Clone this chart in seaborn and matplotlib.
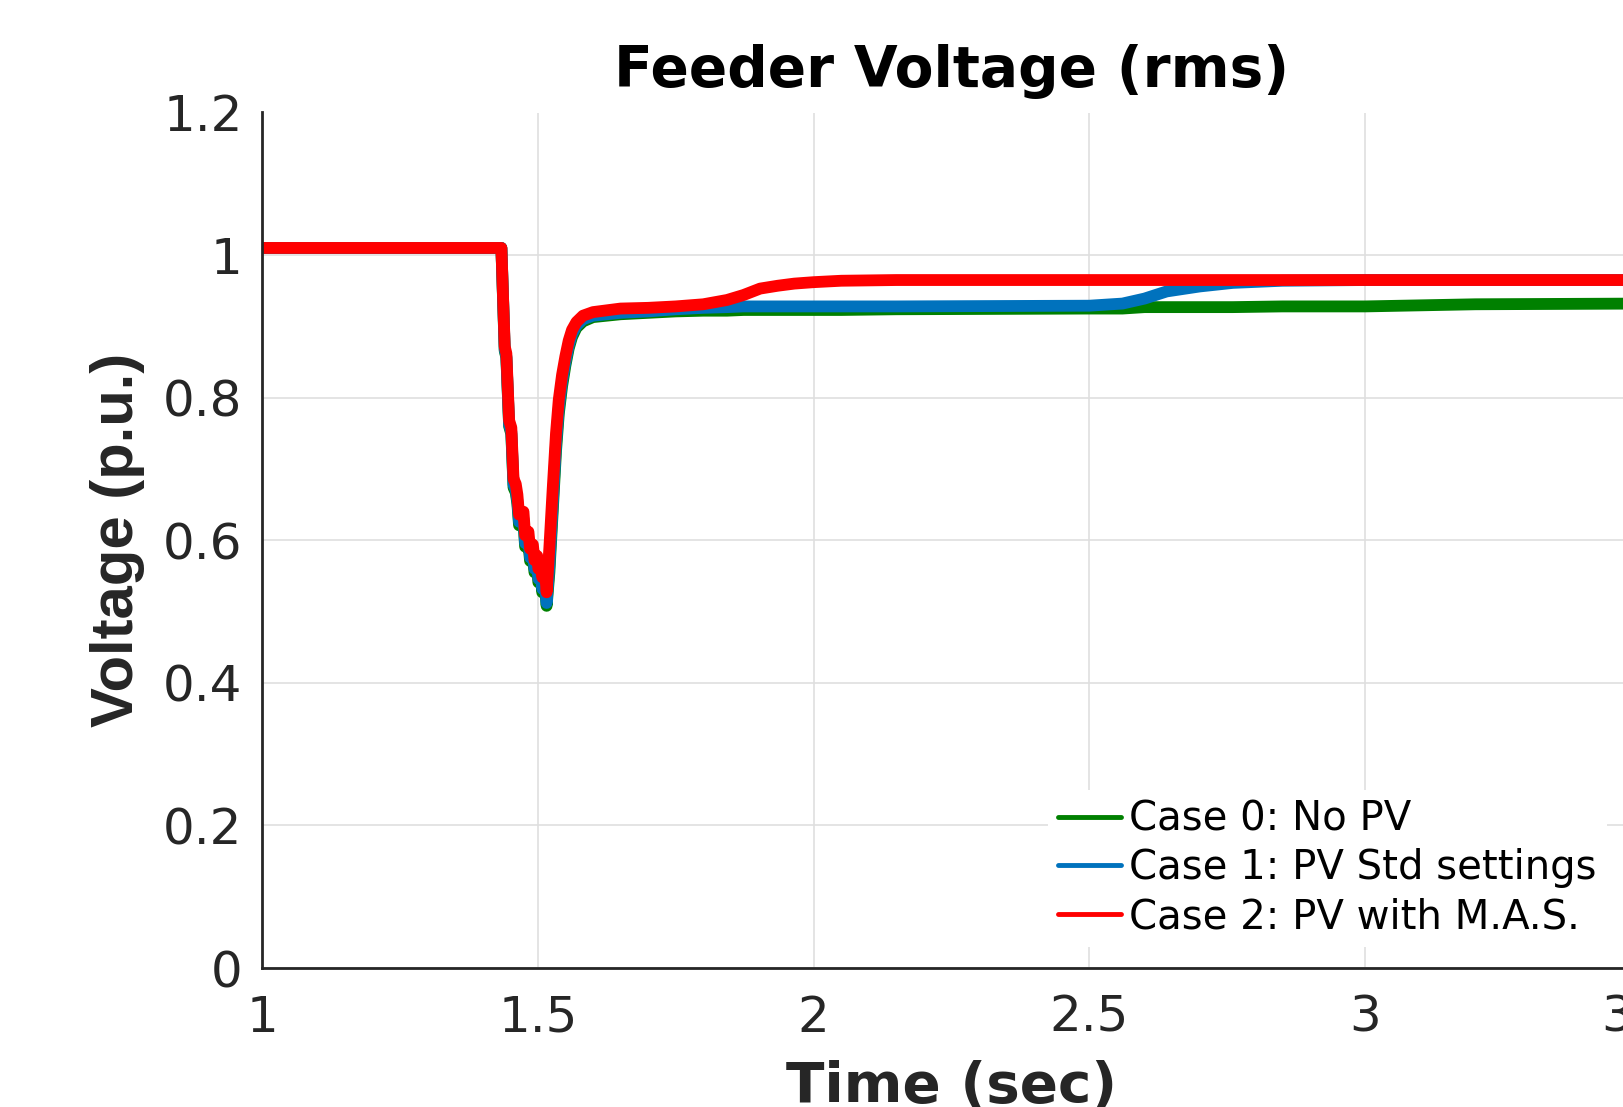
import numpy as np
import pandas as pd
import matplotlib
matplotlib.use("Agg")
import matplotlib.pyplot as plt
import seaborn as sns

# time grid (s) shared by the three cases
time_s = [1.000, 1.434, 1.440, 1.443, 1.448, 1.452, 1.456, 1.460, 1.463, 1.466,
          1.474, 1.477, 1.483, 1.486, 1.491, 1.494, 1.499, 1.501, 1.506, 1.508,
          1.512, 1.516, 1.521, 1.527, 1.533, 1.538, 1.544, 1.550, 1.556, 1.562,
          1.570, 1.582, 1.600, 1.650, 1.700, 1.750, 1.800, 1.843, 1.873, 1.903,
          1.935, 1.965, 2.000, 2.050, 2.150, 2.500, 2.560, 2.600, 2.640, 2.700,
          2.760, 2.850, 3.000, 3.200, 3.500]

# Case 0: No PV
v_case0 = [1.010, 1.010, 0.866, 0.856, 0.760, 0.749, 0.674, 0.667, 0.651, 0.621,
           0.626, 0.591, 0.596, 0.571, 0.577, 0.555, 0.561, 0.541, 0.547, 0.527,
           0.543, 0.508, 0.555, 0.640, 0.725, 0.777, 0.816, 0.845, 0.869, 0.885,
           0.898, 0.907, 0.913, 0.917, 0.919, 0.921, 0.922, 0.922, 0.923, 0.923,
           0.923, 0.923, 0.923, 0.923, 0.924, 0.925, 0.925, 0.927, 0.927, 0.927,
           0.927, 0.928, 0.928, 0.931, 0.932]

# Case 1: PV Std settings
v_case1 = [1.010, 1.010, 0.868, 0.858, 0.762, 0.752, 0.678, 0.671, 0.655, 0.626,
           0.630, 0.596, 0.601, 0.576, 0.582, 0.560, 0.566, 0.546, 0.552, 0.532,
           0.548, 0.512, 0.565, 0.650, 0.735, 0.785, 0.823, 0.850, 0.873, 0.889,
           0.901, 0.910, 0.915, 0.919, 0.921, 0.924, 0.926, 0.927, 0.928, 0.928,
           0.928, 0.928, 0.928, 0.928, 0.928, 0.929, 0.932, 0.939, 0.949, 0.956,
           0.961, 0.964, 0.965, 0.965, 0.965]

# Case 2: PV with M.A.S.
v_case2 = [1.010, 1.010, 0.872, 0.862, 0.768, 0.758, 0.686, 0.679, 0.664, 0.636,
           0.640, 0.607, 0.612, 0.588, 0.594, 0.572, 0.578, 0.560, 0.566, 0.548,
           0.568, 0.527, 0.590, 0.672, 0.750, 0.797, 0.832, 0.858, 0.880, 0.895,
           0.906, 0.915, 0.920, 0.925, 0.926, 0.928, 0.931, 0.937, 0.944, 0.953,
           0.957, 0.960, 0.962, 0.964, 0.965, 0.965, 0.965, 0.965, 0.965, 0.965,
           0.965, 0.965, 0.965, 0.965, 0.965]

labels = ["Case 0: No PV", "Case 1: PV Std settings", "Case 2: PV with M.A.S."]
colors = ["#008000", "#0072BD", "#FF0000"]

x_ticks = [1, 1.5, 2, 2.5, 3, 3.5]
x_tick_labels = ["1", "1.5", "2", "2.5", "3", "3.5"]
y_ticks = [0, 0.2, 0.4, 0.6, 0.8, 1, 1.2]
y_tick_labels = ["0", "0.2", "0.4", "0.6", "0.8", "1", "1.2"]

df = pd.concat([
    pd.DataFrame({"t": time_s, "v": v, "case": lab})
    for v, lab in zip([v_case0, v_case1, v_case2], labels)
])

sns.set_theme(style="white")
plt.rcParams["font.family"] = ["DejaVu Sans"]

fig = plt.figure(figsize=(16.24, 11.07), dpi=100)
ax = fig.add_axes([262 / 1624, 1 - 968 / 1107, 1379 / 1624, 855.5 / 1107])

sns.lineplot(data=df, x="t", y="v", hue="case", hue_order=labels,
             palette=colors, estimator=None, sort=False, linewidth=8.5,
             legend=False, ax=ax)

ax.set_xlim(1, 3.5)
ax.set_ylim(0, 1.2)
ax.set_xticks(x_ticks)
ax.set_xticklabels(x_tick_labels)
ax.set_yticks(y_ticks)
ax.set_yticklabels(y_tick_labels)

ax.grid(True, color="#dfdfdf", linewidth=1.2)
ax.set_axisbelow(True)
for s in ["top", "right"]:
    ax.spines[s].set_visible(False)
for s in ["left", "bottom"]:
    ax.spines[s].set_color("#262626")
    ax.spines[s].set_linewidth(2)

ax.tick_params(axis="both", direction="in", colors="#262626", labelsize=36, width=2)
ax.tick_params(axis="x", length=9.4, pad=18.5)
ax.tick_params(axis="y", length=12, pad=14)

ax.set_title("Feeder Voltage (rms)", fontsize=40.8, fontweight="bold", pad=18.6, color="black")
ax.set_xlabel("Time (sec)", fontsize=40.6, fontweight="bold", color="#262626")
ax.set_ylabel("Voltage (p.u.)", fontsize=43, fontweight="bold", color="#262626",
              family=["Liberation Sans", "DejaVu Sans"])
ax.xaxis.set_label_coords(0.5, -0.1075)
ax.yaxis.set_label_coords(-0.0848, 0.5)

handles = [plt.Line2D([], [], color=c, linewidth=3.5) for c in colors]
leg = ax.legend(handles, labels, loc="center left",
                bbox_to_anchor=(1048 / 1624, 1 - 868.5 / 1107),
                bbox_transform=fig.transFigure, fontsize=29,
                frameon=True, facecolor="white", edgecolor="none", framealpha=1,
                fancybox=False, borderpad=0.25, borderaxespad=0,
                handlelength=1.56, handletextpad=0.2, labelspacing=0.22)
for txt in leg.get_texts():
    txt.set_color("black")

fig.savefig("out.png", dpi=100)
